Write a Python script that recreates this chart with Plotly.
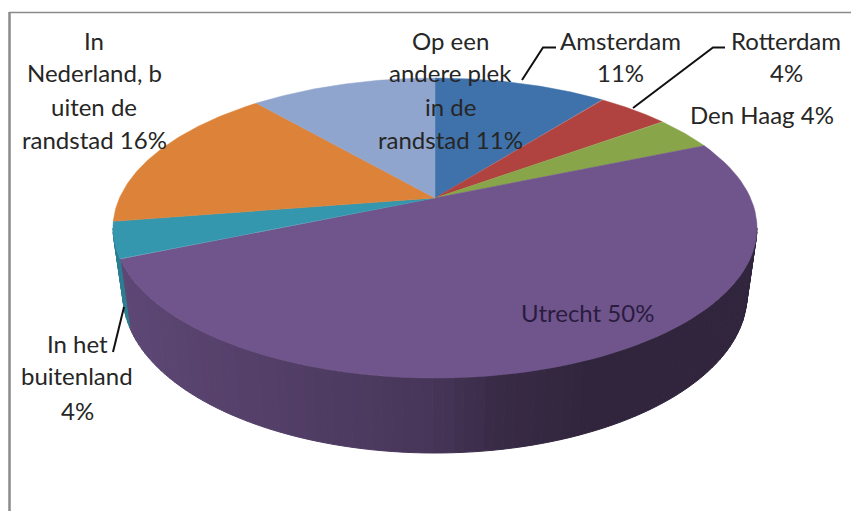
import numpy as np
import plotly.graph_objects as go

# ---- data ----
categories = ["Amsterdam", "Rotterdam", "Den Haag", "Utrecht", "In het buitenland",
              "In Nederland, buiten de randstad", "Op een andere plek in de randstad"]
values = [10.5, 4.4, 3.7, 50.0, 3.9, 16.2, 11.3]
colors = ["#3f72aa", "#b0433f", "#88a54a", "#70558c", "#3597ae", "#dc8339", "#8fa5cd"]

label_lines = [
    ["Amsterdam", "11%"],
    ["Rotterdam", "4%"],
    ["Den Haag 4%"],
    ["Utrecht 50%"],
    ["In het", "buitenland", "4%"],
    ["In", "Nederland, b", "uiten de", "randstad 16%"],
    ["Op een", "andere plek", "in de", "randstad 11%"],
]
label_x = [620, 786, 762, 587, 77, 94, 450]
label_y = [[40, 72], [40, 72], [114], [312], [343, 375, 410], [40, 72, 106, 139], [40, 72, 106, 139]]
label_col = ["#262626"] * 3 + ["#2a1c40"] + ["#262626"] * 3

leaders = [
    ([522, 543, 556], [80, 47.5, 47.5]),
    ([633, 713, 725], [108, 47.5, 47.5]),
    ([124, 113], [307, 352]),
]

# ---- projection of the tilted disc ----
CX, CY = 435.0, 198.0
K, A = 0.2, 144.0
B = 322.0 * np.sqrt(1 - K ** 2)
TOP_CY, TOP_RX, TOP_RY = 228.0, 322.0, 150.0
LOW_CY, LOW_RX, LOW_RY = 295.0, 312.0, 158.0
# rim shade: screen x -> shade factor stops
RIM_X = [113, 300, 425, 500, 600, 757]
RIM_SHADE = [0.84, 0.72, 0.64, 0.50, 0.43, 0.44]


def top(theta):
    u, v = np.sin(theta), np.cos(theta)
    d = 1 + K * v
    return CX + B * u / d, CY - A * v / d


def low(theta):
    x, y = top(theta)
    return CX + (x - CX) * LOW_RX / TOP_RX, LOW_CY + (y - TOP_CY) * LOW_RY / TOP_RY


def shade(hexcol, f):
    r, g, b = (int(hexcol[i:i + 2], 16) for i in (1, 3, 5))
    return f"rgb({r * f:.0f},{g * f:.0f},{b * f:.0f})"


fig = go.Figure()
edges = np.radians(np.concatenate([[0], np.cumsum(values)]) * 3.6)
vis_from, vis_to = np.arccos(-K), 2 * np.pi - np.arccos(-K)

# rim strips
for i, col in enumerate(colors):
    a0, a1 = max(edges[i], vis_from), min(edges[i + 1], vis_to)
    if a1 <= a0:
        continue
    n = max(2, int((a1 - a0) / np.radians(1.5)))
    t = np.linspace(a0, a1, n + 1)
    for j in range(n):
        seg = np.linspace(t[j], t[j + 1], 3)
        xt, yt = top(seg)
        xl, yl = low(seg)
        f = np.interp((xt.mean() + xl.mean()) / 2, RIM_X, RIM_SHADE)
        c = shade(col, f)
        fig.add_trace(go.Scatter(
            x=np.r_[xt, xl[::-1], xt[0]], y=np.r_[yt, yl[::-1], yt[0]],
            mode="lines", fill="toself", fillcolor=c, line=dict(color=c, width=1),
            hoverinfo="skip", showlegend=False))

# top wedges
for i, (name, col) in enumerate(zip(categories, colors)):
    t = np.linspace(edges[i], edges[i + 1], 90)
    xt, yt = top(t)
    fig.add_trace(go.Scatter(
        x=np.r_[CX, xt, CX], y=np.r_[CY, yt, CY], name=name,
        mode="lines", fill="toself", fillcolor=col, line=dict(color=col, width=0.5),
        showlegend=False))

# leader lines
for lx, ly in leaders:
    fig.add_trace(go.Scatter(x=lx, y=ly, mode="lines", line=dict(color="#111111", width=2),
                             hoverinfo="skip", showlegend=False))

# labels, one annotation per line for the exact line pitch
for lines, lx, ys, c in zip(label_lines, label_x, label_y, label_col):
    for line, ly in zip(lines, ys):
        fig.add_annotation(x=lx, y=ly, text=line, showarrow=False, xanchor="center", yanchor="middle",
                           font=dict(family="Lato", size=24, color=c))

fig.add_shape(type="line", x0=9.5, x1=9.5, y0=12, y1=511, line=dict(color="#8a8a8a", width=2.5))
fig.add_shape(type="line", x0=9, x1=851, y0=12.5, y1=12.5, line=dict(color="#8a8a8a", width=1.5))

fig.update_xaxes(range=[0, 851], visible=False)
fig.update_yaxes(range=[511, 0], visible=False)
fig.update_layout(width=851, height=511, margin=dict(l=0, r=0, t=0, b=0),
                  paper_bgcolor="white", plot_bgcolor="white")
fig.write_html("out.html", config={"displayModeBar": False},
               post_script="document.body.style.margin='0';document.body.style.overflow='hidden';")
